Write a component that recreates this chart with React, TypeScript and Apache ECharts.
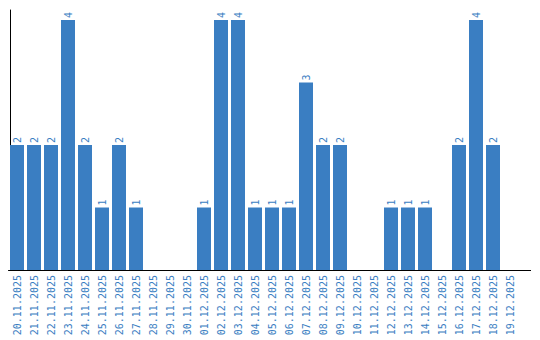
import React, { useEffect, useRef } from "react";
import * as echarts from "echarts";

const categories = [
  "20.11.2025", "21.11.2025", "22.11.2025", "23.11.2025", "24.11.2025", "25.11.2025",
  "26.11.2025", "27.11.2025", "28.11.2025", "29.11.2025", "30.11.2025", "01.12.2025",
  "02.12.2025", "03.12.2025", "04.12.2025", "05.12.2025", "06.12.2025", "07.12.2025",
  "08.12.2025", "09.12.2025", "10.12.2025", "11.12.2025", "12.12.2025", "13.12.2025",
  "14.12.2025", "15.12.2025", "16.12.2025", "17.12.2025", "18.12.2025", "19.12.2025",
];
const values = [2, 2, 2, 4, 2, 1, 2, 1, 0, 0, 0, 1, 4, 4, 1, 1, 1, 3, 2, 2, 0, 0, 1, 1, 1, 0, 2, 4, 2, 0];

const BLUE = "#3a7ec2";
const FONT = "DejaVu Sans Mono";

export default function App() {
  const ref = useRef<HTMLDivElement>(null);
  useEffect(() => {
    const chart = echarts.init(ref.current!, null, { renderer: "svg" });
    chart.setOption({
      animation: false,
      grid: { left: 8.5, right: 21.5, top: 10, bottom: 70 },
      xAxis: {
        type: "category",
        data: categories,
        axisLine: { lineStyle: { color: "#000", width: 1 } },
        axisTick: { show: false },
        axisLabel: {
          rotate: 90,
          interval: 0,
          color: BLUE,
          fontFamily: FONT,
          fontSize: 10,
          margin: 5,
        },
      },
      yAxis: {
        type: "value",
        min: 0,
        max: 4.16,
        offset: -1.5,
        axisLine: { show: true, lineStyle: { color: "#000", width: 1 } },
        axisTick: { show: false },
        axisLabel: { show: false },
        splitLine: { show: false },
      },
      graphic: [
        {
          type: "line",
          shape: { x1: 518, y1: 270.5, x2: 531, y2: 270.5 },
          style: { stroke: "#000", lineWidth: 1 },
        },
      ],
      series: [
        {
          type: "bar",
          data: values.map((v) => (v === 0 ? null : v)),
          barWidth: 14,
          itemStyle: { color: BLUE },
          label: {
            show: true,
            position: "top",
            rotate: 90,
            align: "left",
            verticalAlign: "middle",
            distance: 2,
            color: BLUE,
            fontFamily: FONT,
            fontSize: 10,
          },
        },
      ],
    });
    return () => chart.dispose();
  }, []);
  return <div ref={ref} style={{ width: 540, height: 340, position: "absolute", left: 0, top: 0 }} />;
}
